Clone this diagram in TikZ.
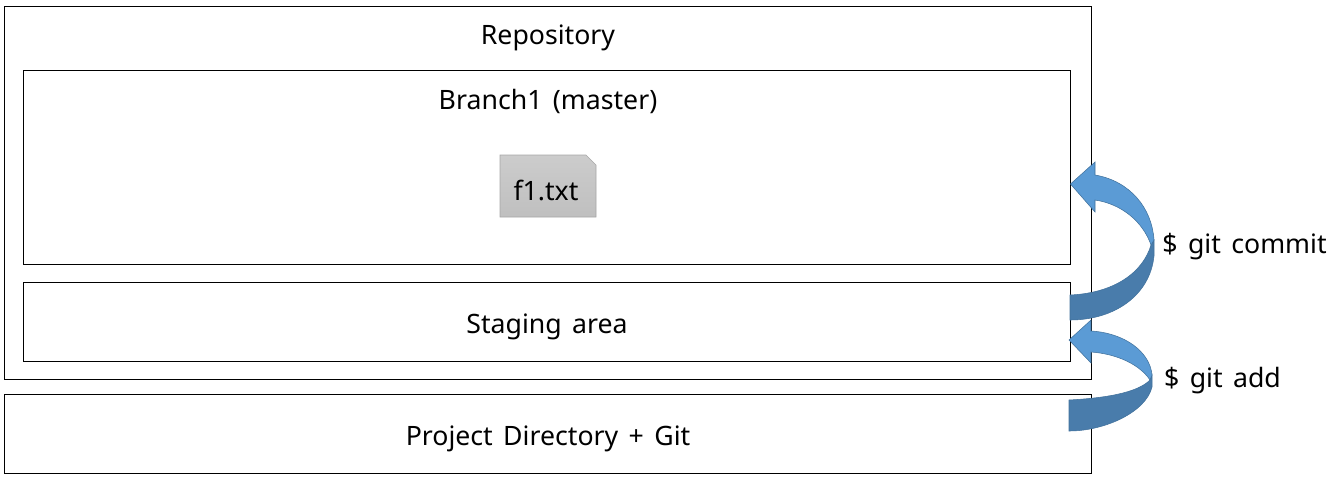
\documentclass[tikz,border=0pt]{standalone}
\usepackage{fontspec}
\setmainfont[WordSpace=1.5]{Noto Sans}
\usetikzlibrary{positioning}
\definecolor{ArrowLight}{RGB}{91, 155, 213}
\definecolor{ArrowDark}{RGB}{73, 124, 171}
\definecolor{ArrowEdge}{RGB}{65, 113, 156}
\tikzset{
  areabox/.style={draw=black, line width=0.75pt},
  arealabel/.style={font=\fontsize{20}{24}\selectfont, inner sep=0pt, anchor=base},
  arrowfront/.style={fill=ArrowLight, draw=ArrowEdge, line width=0.4pt, line join=miter},
  arrowback/.style={fill=ArrowDark, draw=ArrowEdge, line width=0.4pt}
}

\begin{document}
\begin{tikzpicture}[x=0.75pt, y=-0.75pt]
        \useasboundingbox (0,0) rectangle (1332,480);
        % boxes
        \draw[areabox] (4,6) rectangle (1091,379);
        \draw[areabox] (23,70) rectangle (1070,264);
        \draw[areabox] (23,282) rectangle (1070,361);
        \draw[areabox] (4,394) rectangle (1091,473);
        % file icon
        \path[top color=gray!40, bottom color=gray!50, draw=gray!70, line width=0.5pt]
              (500,155) -- (586,155) -- (596,165) -- (596,217) -- (500,217) -- cycle;
        % labels
        \node[arealabel] (repository) at (548,44) {Repository};
        \node[arealabel] (branch) at (548,109) {Branch1 (master)};
        \node[arealabel] (file) at (546,200) {f1.txt};
        \node[arealabel] (staging) at (547,333) {Staging area};
        \node[arealabel] (project) at (548,445) {Project Directory + Git};
        \node[arealabel] (commit) at (1244.5,253) {\$ git commit};
        \node[arealabel] (add) at (1222.5,387) {\$ git add};
        % commit arrow
        \path[arrowback] (1070,295) .. controls (1115,293) and (1143,272) .. (1151,245)
              -- (1154,240) -- (1154,256) .. controls (1150,295) and (1115,320) .. (1070,320) -- cycle;
        \path[arrowfront] (1070.5,184) -- (1095,162) -- (1095,175)
              .. controls (1130,181) and (1152,208) .. (1154,240) -- (1151,245)
              .. controls (1143,222) and (1122,204) .. (1095,200) -- (1095,212) -- cycle;
        % add arrow
        \path[arrowback] (1069,400) .. controls (1105,398) and (1137,393) .. (1150,380)
              -- (1152,375) -- (1152,387) .. controls (1146,412) and (1105,431) .. (1069,431) -- cycle;
        \path[arrowfront] (1069,340) -- (1091,320) -- (1091,331)
              .. controls (1125,333) and (1150,352) .. (1152,375) -- (1150,380)
              .. controls (1140,365) and (1118,354) .. (1091,352) -- (1091,363) -- cycle;
      \end{tikzpicture}
\end{document}
